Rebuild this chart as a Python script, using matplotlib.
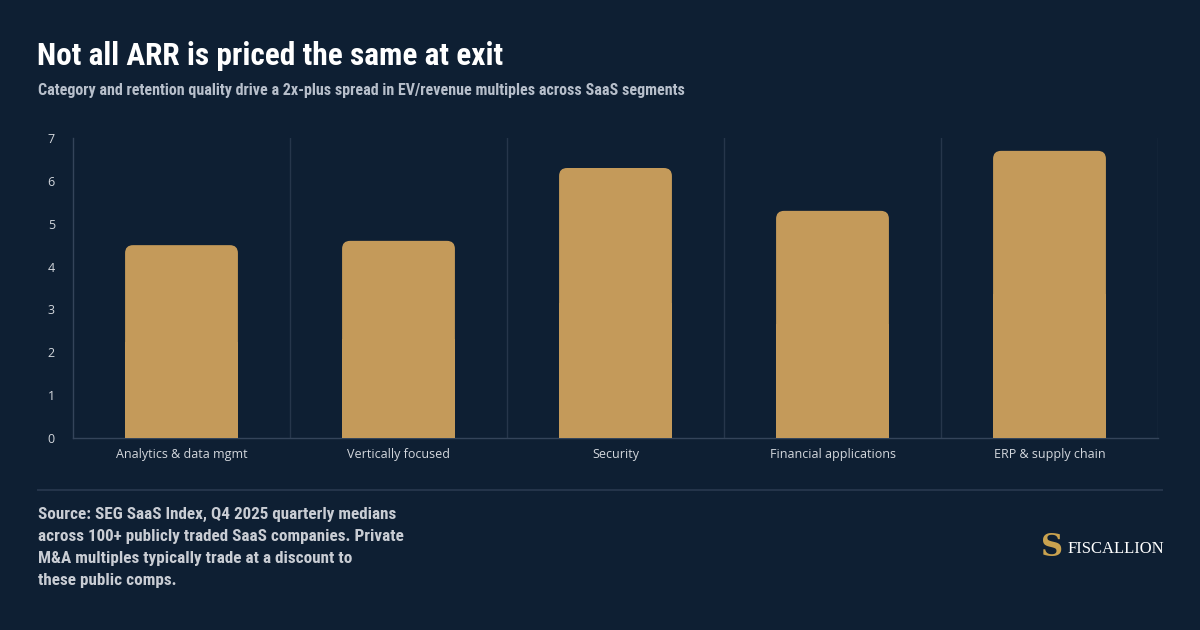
import matplotlib
matplotlib.use("Agg")
import matplotlib.pyplot as plt
from matplotlib.patches import FancyBboxPatch, Rectangle

# data
categories = ["Analytics & data mgmt", "Vertically focused", "Security",
              "Financial applications", "ERP & supply chain"]
multiples = [4.5, 4.6, 6.3, 5.3, 6.7]
y_ticks = [0, 1, 2, 3, 4, 5, 6, 7]

title = "Not all ARR is priced the same at exit"
subtitle = ("Category and retention quality drive a 2x-plus spread in "
            "EV/revenue multiples across SaaS segments")
source_lines = [
    "Source: SEG SaaS Index, Q4 2025 quarterly medians",
    "across 100+ publicly traded SaaS companies. Private",
    "M&A multiples typically trade at a discount to",
    "these public comps.",
]

BG = "#0e1f33"
GOLD = "#c49a5a"
GRID = "#26364b"
TICK = "#d3d7dd"
COND = ["Roboto Condensed", "Roboto"]

fig = plt.figure(figsize=(12, 6.3), dpi=100, facecolor=BG)
W, H = 1200, 630

# plot area: x 73..1158 px, y 138..438 px
ax = fig.add_axes([73 / W, 1 - 438 / H, (1158 - 73) / W, 300 / H])
ax.set_facecolor(BG)
ax.set_xlim(-0.5, len(categories) - 0.5)
ax.set_ylim(0, 7)

bar_w = 0.52
px_per_x = (1158 - 73) / len(categories)
px_per_y = 300 / 7
r = 8 / px_per_x
for i, v in enumerate(multiples):
    ax.add_patch(FancyBboxPatch((i - bar_w / 2, 0), bar_w, v,
                                boxstyle=f"round,pad=0,rounding_size={r}",
                                mutation_aspect=px_per_x / px_per_y,
                                facecolor=GOLD, edgecolor="none", zorder=3))
    ax.add_patch(Rectangle((i - bar_w / 2, 0), bar_w, v / 2,
                           facecolor=GOLD, edgecolor="none", zorder=3))

# vertical separators between categories
for b in range(1, len(categories) + 1):
    ax.axvline(b - 0.5, color=GRID, lw=1, zorder=1)

for s in ["top", "right"]:
    ax.spines[s].set_visible(False)
for s in ["left", "bottom"]:
    ax.spines[s].set_color("#34445a")
    ax.spines[s].set_linewidth(1)

ax.set_xticks(range(len(categories)))
ax.set_xticklabels(categories, fontsize=9, color=TICK, family="Open Sans")
ax.set_yticks(y_ticks)
ax.set_yticklabels([str(t) for t in y_ticks], fontsize=9, color=TICK, family="Open Sans")
ax.tick_params(axis="x", length=0, pad=7)
ax.tick_params(axis="y", length=0, pad=13)

# titles
fig.text(37 / W, 1 - 56 / H, title, fontsize=22.6, fontweight="bold",
         color="white", family=COND, va="center", ha="left")
fig.text(38 / W, 1 - 90 / H, subtitle, fontsize=11.5, fontweight="bold",
         color="#b7bfcb", family=COND, va="center", ha="left")

# separator line
fig.add_artist(plt.Line2D([38 / W, 1162 / W], [1 - 490 / H, 1 - 490 / H],
                          color="#24344a", lw=1.5))

# source
for k, line in enumerate(source_lines):
    fig.text(38 / W, 1 - (514 + 22.3 * k) / H, line, fontsize=12.3,
             fontweight="bold", color="#c9cdd4", family=COND,
             va="center", ha="left")

# logo
fig.text(1052 / W, 1 - 548 / H, "S", fontsize=22, fontweight="bold",
         color="#c9a24f", family="DejaVu Serif", va="center", ha="center")
fig.text(1068 / W, 1 - 549 / H, "FISCALLION", fontsize=12,
         color="white", family="Liberation Serif", va="center", ha="left")

fig.savefig("out.png", dpi=100, facecolor=BG)
